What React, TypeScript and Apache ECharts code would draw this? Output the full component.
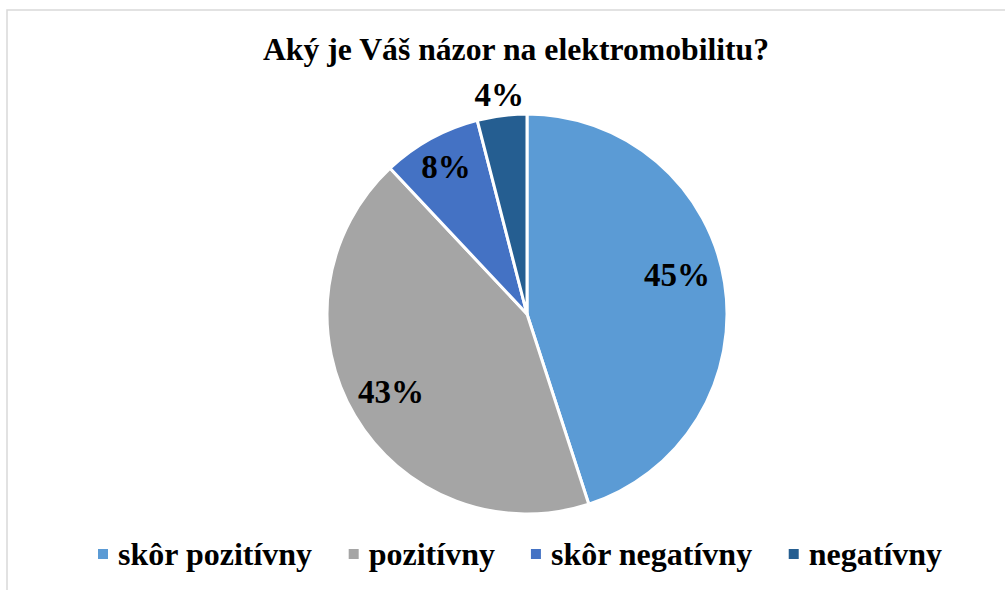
import React, { useEffect, useRef } from "react";
import * as echarts from "echarts";

const titleText = "Aký je Váš názor na elektromobilitu?";
const categories = ["skôr pozitívny", "pozitívny", "skôr negatívny", "negatívny"];
const values = [45, 43, 8, 4];
const colors = ["#5B9BD5", "#A5A5A5", "#4472C4", "#255E91"];
// label styling: radial distance from the centre and small nudge, in px
const labelRadius = [152, 155, 165, 219];
const labelNudge = [[-3, -15], [0, -2], [0, 0], [0, 1]];

const FONT = "Liberation Serif";

export default function App() {
  const ref = useRef<HTMLDivElement>(null);
  useEffect(() => {
    if (!ref.current) return;
    const chart = echarts.init(ref.current, null, { renderer: "svg" });
    const center = [527, 314];
    const mainData = categories.map((name, i) => ({
      name,
      value: values[i],
      itemStyle: { color: colors[i] },
    }));
    const labelSeries = categories.map((_, k) => ({
      type: "pie",
      silent: true,
      center,
      radius: [0, labelRadius[k] * 2],
      startAngle: 90,
      clockwise: true,
      z: 5,
      itemStyle: { color: "transparent", borderWidth: 0 },
      emphasis: { disabled: true },
      labelLine: { show: false },
      data: categories.map((name, i) => ({
        name,
        value: values[i],
        itemStyle: { color: "transparent" },
        label: {
          show: i === k,
          position: "inside",
          formatter: "{c}%",
          offset: labelNudge[i],
          fontFamily: FONT,
          fontWeight: "bold",
          fontSize: 33,
          color: "#000",
        },
      })),
    }));
    chart.setOption({
      animation: false,
      title: {
        text: titleText,
        left: 511,
        textAlign: "center",
        top: 28,
        textStyle: { fontFamily: FONT, fontWeight: "bold", fontSize: 31.7, color: "#000" },
      },
      legend: {
        data: categories,
        left: 96,
        top: 538,
        padding: 0,
        itemWidth: 12,
        itemHeight: 12,
        itemGap: 34,
        icon: "rect",
        textStyle: {
          fontFamily: FONT,
          fontWeight: "bold",
          fontSize: 32,
          color: "#000",
          padding: [0, 0, 0, 4],
        },
      },
      graphic: [
        {
          type: "rect",
          shape: { x: 7, y: 10, width: 1010, height: 600 },
          style: { fill: "none", stroke: "#d9d9d9", lineWidth: 1.5 },
          silent: true,
        },
      ],
      series: [
        {
          type: "pie",
          center,
          radius: [0, 200],
          startAngle: 90,
          clockwise: true,
          label: { show: false },
          labelLine: { show: false },
          itemStyle: { borderColor: "#fff", borderWidth: 3 },
          emphasis: { disabled: true },
          data: mainData,
        },
        ...labelSeries,
      ],
    });
    return () => chart.dispose();
  }, []);
  return (
    <div
      ref={ref}
      style={{ position: "fixed", left: 0, top: 0, width: 1005, height: 590, background: "#fff" }}
    />
  );
}
